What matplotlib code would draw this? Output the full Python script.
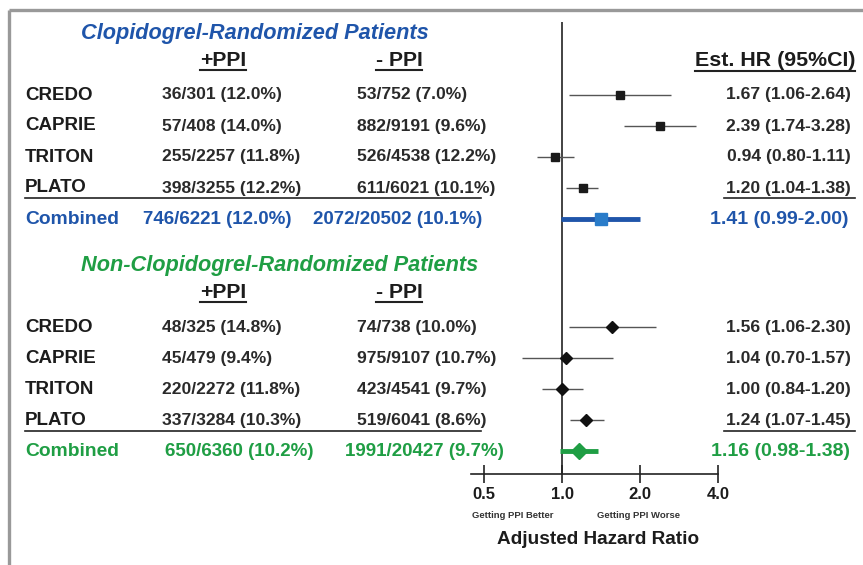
import numpy as np
import matplotlib
matplotlib.use("Agg")
from matplotlib import pyplot as plt

plt.rcParams['font.family'] = ['Liberation Sans', 'DejaVu Sans']

# data
studies = ["CREDO", "CAPRIE", "TRITON", "PLATO"]

clop_ppi = ["36/301 (12.0%)", "57/408 (14.0%)", "255/2257 (11.8%)", "398/3255 (12.2%)"]
clop_noppi = ["53/752 (7.0%)", "882/9191 (9.6%)", "526/4538 (12.2%)", "611/6021 (10.1%)"]
clop_hr = [1.67, 2.39, 0.94, 1.20]
clop_lo = [1.06, 1.74, 0.80, 1.04]
clop_hi = [2.64, 3.28, 1.11, 1.38]
clop_comb_ppi = "746/6221 (12.0%)"
clop_comb_noppi = "2072/20502 (10.1%)"
clop_comb_hr = [1.41, 0.99, 2.00]

nonclop_ppi = ["48/325 (14.8%)", "45/479 (9.4%)", "220/2272 (11.8%)", "337/3284 (10.3%)"]
nonclop_noppi = ["74/738 (10.0%)", "975/9107 (10.7%)", "423/4541 (9.7%)", "519/6041 (8.6%)"]
nonclop_hr = [1.56, 1.04, 1.00, 1.24]
nonclop_lo = [1.06, 0.70, 0.84, 1.07]
nonclop_hi = [2.30, 1.57, 1.20, 1.45]
nonclop_comb_ppi = "650/6360 (10.2%)"
nonclop_comb_noppi = "1991/20427 (9.7%)"
nonclop_comb_hr = [1.16, 0.98, 1.38]

ticks = [0.5, 1.0, 2.0, 4.0]

BLUE = "#1f55aa"
BLUE_M = "#2a7cc9"
GREEN = "#1f9e44"
DARK = "#1c1c1c"
W, H = 863, 565

fig = plt.figure(figsize=(W / 100, H / 100), dpi=100)

# overlay in pixel units for the table text
bg = fig.add_axes([0, 0, 1, 1])
bg.set_xlim(0, W)
bg.set_ylim(H, 0)
bg.axis('off')

# frame
bg.plot([9, 9], [10, H], color="#999999", lw=2.4, solid_capstyle='butt')
bg.plot([9, W], [10, 10], color="#999999", lw=2.4, solid_capstyle='butt')

# forest axes
ax = fig.add_axes([471 / W, (H - 474) / H, (718 - 471) / W, (474 - 22) / H])
ax.set_facecolor('none')
ax.set_xscale('log', base=2)
ax.set_xlim(0.4454, 4.0)
ax.set_ylim(12.226, -2.355)
for s in ['top', 'left', 'right']:
    ax.spines[s].set_visible(False)
ax.spines['bottom'].set_linewidth(1.2)
ax.spines['bottom'].set_color("#222222")
ax.set_yticks([])
ax.set_xticks(ticks)
ax.set_xticklabels(["%.1f" % t for t in ticks], fontsize=12, fontweight='bold', color=DARK)
ax.xaxis.set_minor_locator(matplotlib.ticker.NullLocator())
ax.tick_params(axis='x', direction='inout', length=13, width=1.2, color="#222222", pad=3)
ax.axvline(1.0, color="#222222", lw=1.2)

rows1 = np.arange(4)
rows2 = np.arange(4) + 7.5
comb1 = 4
comb2 = 11.5

ax.hlines(rows1, clop_lo, clop_hi, color="#555555", lw=1)
ax.plot(clop_hr, rows1, 's', color="#1a1a1a", ms=6)
ax.hlines(comb1, clop_comb_hr[1], clop_comb_hr[2], color=BLUE, lw=3.5)
ax.plot(clop_comb_hr[0], comb1, 's', color=BLUE_M, ms=8)

ax.hlines(rows2, nonclop_lo, nonclop_hi, color="#555555", lw=1)
ax.plot(nonclop_hr, rows2, 'D', color="#111111", ms=6)
ax.hlines(comb2, nonclop_comb_hr[1], nonclop_comb_hr[2], color=GREEN, lw=3.5)
ax.plot(nonclop_comb_hr[0], comb2, 'D', color=GREEN, ms=8)


def row_y(r):
    return 95 + 31 * r


underline_texts = []


def block(r0, title, tcolor, tx, ppi, noppi, hr, lo, hi, ccolor, comb_r):
    ty = row_y(r0) - 62
    bg.text(tx, ty, title, color=tcolor, fontsize=15.7, fontweight='bold',
            style='italic', ha='center', va='center')
    hy = row_y(r0) - 35
    for x, s in [(223, "+PPI"), (399, "- PPI")]:
        t = bg.text(x, hy, s, color=DARK, fontsize=15.2, fontweight='bold',
                    ha='center', va='center')
        underline_texts.append(t)
    for i in range(4):
        y = row_y(r0 + i)
        bg.text(25, y, studies[i], color=DARK, fontsize=13.5, fontweight='bold', va='center')
        bg.text(162, y, ppi[i], color="#2a2a2a", fontsize=12.6, fontweight='bold', va='center')
        bg.text(357, y, noppi[i], color="#2a2a2a", fontsize=12.6, fontweight='bold', va='center')
        bg.text(851, y, "%.2f (%.2f-%.2f)" % (hr[i], lo[i], hi[i]), color="#2a2a2a",
                fontsize=12.6, fontweight='bold', ha='right', va='center')
    ly = row_y(r0 + 3) + 10
    bg.plot([25, 481], [ly, ly], color="#222222", lw=1.2)
    bg.plot([724, 855], [ly, ly], color="#222222", lw=1.2)
    y = row_y(comb_r)
    bg.text(25, y, "Combined", color=ccolor, fontsize=13.9, fontweight='bold', va='center')
    return y


yc = block(0, "Clopidogrel-Randomized Patients", BLUE, 255, clop_ppi, clop_noppi,
           clop_hr, clop_lo, clop_hi, BLUE, comb1)
bg.text(143, yc, clop_comb_ppi, color=BLUE, fontsize=13.5, fontweight='bold', va='center')
bg.text(313, yc, clop_comb_noppi, color=BLUE, fontsize=13.5, fontweight='bold', va='center')
bg.text(848, yc, "%.2f (%.2f-%.2f)" % tuple(clop_comb_hr), color=BLUE, fontsize=14,
        fontweight='bold', ha='right', va='center')

yc = block(7.5, "Non-Clopidogrel-Randomized Patients", GREEN, 280, nonclop_ppi, nonclop_noppi,
           nonclop_hr, nonclop_lo, nonclop_hi, GREEN, comb2)
bg.text(165, yc, nonclop_comb_ppi, color=GREEN, fontsize=13.5, fontweight='bold', va='center')
bg.text(345, yc, nonclop_comb_noppi, color=GREEN, fontsize=13.5, fontweight='bold', va='center')
bg.text(850, yc, "%.2f (%.2f-%.2f)" % tuple(nonclop_comb_hr), color=GREEN, fontsize=14,
        fontweight='bold', ha='right', va='center')

t = bg.text(855, 61, "Est. HR (95%CI)", color=DARK, fontsize=15.4, fontweight='bold',
            ha='right', va='center')
underline_texts.append(t)

bg.text(513, 515, "Getting PPI Better", color="#333333", fontsize=6.8, fontweight='bold',
        ha='center', va='center')
bg.text(638, 515, "Getting PPI Worse", color="#333333", fontsize=6.8, fontweight='bold',
        ha='center', va='center')
bg.text(598, 540, "Adjusted Hazard Ratio", color=DARK, fontsize=13.7, fontweight='bold',
        ha='center', va='center')

# underline headers
fig.canvas.draw()
r = fig.canvas.get_renderer()
inv = bg.transData.inverted()
for t in underline_texts:
    bb = t.get_window_extent(r)
    (x0, y0), (x1, y1) = inv.transform([[bb.x0, bb.y0], [bb.x1, bb.y1]])
    bg.plot([x0, x1], [y0, y0], color="#222222", lw=1.5)

fig.savefig("out.png", dpi=100)
